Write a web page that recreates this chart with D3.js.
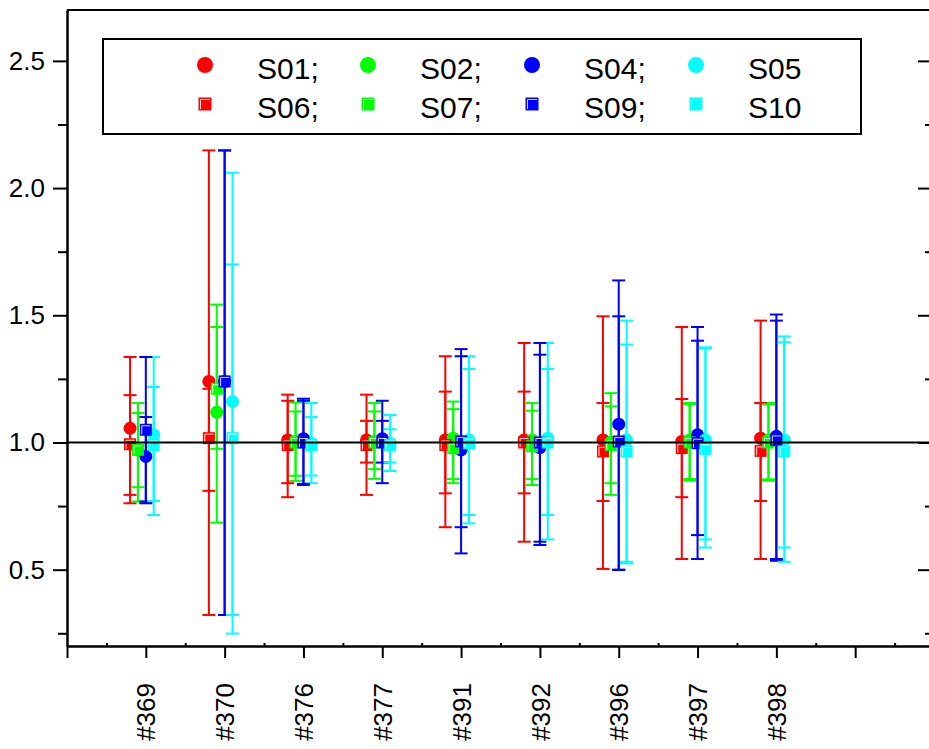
<!DOCTYPE html>
<html>
<head>
<meta charset="utf-8">
<script src="https://cdn.jsdelivr.net/npm/d3@7"></script>
<style>
  body { margin: 0; background: #fff; }
  svg { display: block; }
  text { font-family: "Liberation Sans", Arial, sans-serif; }
</style>
</head>
<body>
<svg id="chart" width="929" height="749"></svg>
<script>
// Sample labels along the x axis (positions 1..9)
const categories = ["#369", "#370", "#376", "#377", "#391", "#392", "#396", "#397", "#398"];
const yMajorTicks = [0.5, 1.0, 1.5, 2.0, 2.5];
const yMinorTicks = [0.25, 0.75, 1.25, 1.75, 2.25];

// Each series: one [value, lower, upper] triplet per category
const S01 = [[1.056, 0.761, 1.336], [1.240, 0.322, 2.148], [1.010, 0.840, 1.188], [1.010, 0.794, 1.188], [1.010, 0.667, 1.339], [1.010, 0.610, 1.391], [1.010, 0.503, 1.496], [1.004, 0.542, 1.454], [1.017, 0.542, 1.479]];
const S02 = [[0.971, 0.768, 1.155], [1.119, 0.685, 1.542], [1.004, 0.849, 1.157], [1.004, 0.857, 1.155], [1.017, 0.856, 1.161], [1.010, 0.856, 1.155], [1.001, 0.794, 1.194], [1.010, 0.856, 1.155], [1.010, 0.850, 1.155]];
const S04 = [[0.945, 0.768, 1.100], [1.240, 0.322, 2.148], [1.015, 0.833, 1.172], [1.015, 0.840, 1.164], [0.971, 0.564, 1.367], [0.980, 0.610, 1.345], [1.072, 0.500, 1.637], [1.030, 0.636, 1.454], [1.024, 0.535, 1.503]];
const S05 = [[1.030, 0.715, 1.336], [1.161, 0.249, 2.060], [0.997, 0.840, 1.155], [0.997, 0.888, 1.108], [1.010, 0.682, 1.339], [1.017, 0.619, 1.391], [1.010, 0.531, 1.479], [1.010, 0.619, 1.374], [1.010, 0.531, 1.417]];
const S06 = [[0.993, 0.794, 1.186], [1.017, 0.810, 1.211], [0.990, 0.785, 1.164], [0.990, 0.921, 1.085], [0.990, 0.800, 1.200], [1.000, 0.800, 1.200], [0.965, 0.770, 1.155], [0.978, 0.785, 1.171], [0.967, 0.770, 1.155]];
const S07 = [[0.971, 0.824, 1.116], [1.211, 0.975, 1.454], [1.000, 0.869, 1.122], [1.000, 0.895, 1.122], [0.978, 0.840, 1.131], [0.985, 0.833, 1.125], [0.990, 0.840, 1.142], [1.000, 0.850, 1.150], [1.000, 0.855, 1.150]];
const S09 = [[1.050, 0.761, 1.336], [1.240, 0.322, 2.148], [1.000, 0.837, 1.164], [1.000, 0.921, 1.085], [1.004, 0.667, 1.339], [1.000, 0.597, 1.391], [1.004, 0.499, 1.496], [0.997, 0.542, 1.400], [1.010, 0.542, 1.479]];
const S10 = [[0.990, 0.770, 1.218], [1.017, 0.322, 1.700], [0.990, 0.870, 1.100], [0.990, 0.921, 1.052], [0.997, 0.715, 1.289], [1.000, 0.715, 1.289], [0.965, 0.525, 1.385], [0.975, 0.587, 1.369], [0.965, 0.587, 1.394]];

const seriesNames  = ["S01", "S02", "S04", "S05", "S06", "S07", "S09", "S10"];
const seriesData   = [S01, S02, S04, S05, S06, S07, S09, S10];
const seriesColors = ["#ff0000", "#00ff00", "#0000ff", "#00ffff", "#ff0000", "#00ff00", "#0000ff", "#00ffff"];
const seriesShapes = ["circle", "circle", "circle", "circle", "square", "square", "square", "square"];
const seriesShift  = [-0.2, -0.1, 0, 0.1, -0.2, -0.1, 0, 0.1];
const legendLabels = ["S01;", "S02;", "S04;", "S05", "S06;", "S07;", "S09;", "S10"];

const svg = d3.select("#chart");
const x = d3.scaleLinear().domain([0, 11]).range([67, 934]);
const y = d3.scaleLinear().domain([0.2, 2.7]).range([646, 10]);

const axisStyle = g => {
  g.selectAll("path.domain").attr("stroke", "#000").attr("stroke-width", 2);
  g.selectAll(".tick line").attr("stroke", "#000").attr("stroke-width", 2);
  g.selectAll("text").attr("fill", "#000").attr("font-size", 26);
};

// Left axis with major and minor ticks
svg.append("g").attr("transform", `translate(${x(0)},0)`)
  .call(d3.axisLeft(y).tickValues(yMajorTicks).tickFormat(d3.format(".1f")).tickSize(14).tickSizeOuter(0).tickPadding(8))
  .call(axisStyle);
svg.append("g").attr("transform", `translate(${x(0)},0)`)
  .call(d3.axisLeft(y).tickValues(yMinorTicks).tickFormat("").tickSize(9).tickSizeOuter(0))
  .call(axisStyle);

// Right axis: ticks point inwards
svg.append("g").attr("transform", `translate(${x(11)},0)`)
  .call(d3.axisLeft(y).tickValues(yMajorTicks).tickFormat("").tickSize(16).tickSizeOuter(0))
  .call(axisStyle);
svg.append("g").attr("transform", `translate(${x(11)},0)`)
  .call(d3.axisLeft(y).tickValues(yMinorTicks).tickFormat("").tickSize(9).tickSizeOuter(0))
  .call(axisStyle);

// Top frame line
svg.append("line").attr("x1", x(0)).attr("x2", x(11)).attr("y1", y(2.7)).attr("y2", y(2.7))
  .attr("stroke", "#000").attr("stroke-width", 2);

// Bottom axis with rotated sample labels
const xAxis = svg.append("g").attr("transform", `translate(0,${y(0.2)})`)
  .call(d3.axisBottom(x).tickValues(d3.range(0, 11)).tickSize(12).tickSizeOuter(0)
    .tickFormat(i => categories[i - 1] || ""))
  .call(axisStyle);
xAxis.selectAll("text")
  .attr("text-anchor", "end")
  .attr("transform", "rotate(-90)")
  .attr("x", -37)
  .attr("y", 0)
  .attr("dy", "0.35em");
svg.append("g").attr("transform", `translate(0,${y(0.2)})`)
  .call(d3.axisBottom(x).tickValues(d3.range(0.5, 11, 1)).tickSize(-3).tickSizeOuter(0).tickFormat(""))
  .call(axisStyle);

// Series: error bars then markers
const capHalf = 6.5;
seriesData.forEach((rows, si) => {
  const color = seriesColors[si];
  const g = svg.append("g").attr("class", "series-" + seriesNames[si]);
  const px = (d, i) => x(i + 1 + seriesShift[si]);
  g.selectAll("line.bar").data(rows).join("line").attr("class", "bar")
    .attr("x1", px).attr("x2", px)
    .attr("y1", d => y(d[1])).attr("y2", d => y(d[2]))
    .attr("stroke", color).attr("stroke-width", 2);
  [1, 2].forEach(k => {
    g.selectAll("line.cap" + k).data(rows).join("line").attr("class", "cap" + k)
      .attr("x1", (d, i) => px(d, i) - capHalf).attr("x2", (d, i) => px(d, i) + capHalf)
      .attr("y1", d => y(d[k])).attr("y2", d => y(d[k]))
      .attr("stroke", color).attr("stroke-width", 2);
  });
  if (seriesShapes[si] === "circle") {
    g.selectAll("circle").data(rows).join("circle")
      .attr("cx", px).attr("cy", d => y(d[0])).attr("r", 6.5)
      .attr("fill", color);
  } else {
    const s = 12;
    g.selectAll("rect").data(rows).join("rect")
      .attr("x", (d, i) => px(d, i) - s / 2).attr("y", d => y(d[0]) - s / 2)
      .attr("width", s).attr("height", s).attr("fill", color);
    g.selectAll("path.hl").data(rows).join("path").attr("class", "hl")
      .attr("d", (d, i) => {
        const cx = px(d, i), cy = y(d[0]);
        return `M${cx - s / 2 + 2},${cy + s / 2 - 1.5}V${cy - s / 2 + 2}H${cx + s / 2 - 1.5}`;
      })
      .attr("fill", "none").attr("stroke", "#fff").attr("stroke-width", 1).attr("opacity", 0.85);
  }
});

// Reference line at 1.0
svg.append("line").attr("x1", x(0)).attr("x2", x(11)).attr("y1", y(1)).attr("y2", y(1))
  .attr("stroke", "#000").attr("stroke-width", 2);

// Legend
const legend = svg.append("g");
legend.append("rect").attr("x", 103).attr("y", 39).attr("width", 758).attr("height", 95)
  .attr("fill", "#fff").attr("stroke", "#000").attr("stroke-width", 2);
const legendCols = [205, 368, 532, 696];
const legendRows = [65, 104];
const textBase = [79, 118];
seriesNames.forEach((name, si) => {
  const col = si % 4, row = Math.floor(si / 4);
  const cx = legendCols[col], cy = legendRows[row];
  if (seriesShapes[si] === "circle") {
    legend.append("circle").attr("cx", cx).attr("cy", cy).attr("r", 8).attr("fill", seriesColors[si]);
  } else {
    const s = 13;
    legend.append("rect").attr("x", cx - s / 2).attr("y", cy - s / 2).attr("width", s).attr("height", s)
      .attr("fill", seriesColors[si]);
    legend.append("path")
      .attr("d", `M${cx - s / 2 + 2},${cy + s / 2 - 1.5}V${cy - s / 2 + 2}H${cx + s / 2 - 1.5}`)
      .attr("fill", "none").attr("stroke", "#fff").attr("stroke-width", 1).attr("opacity", 0.85);
  }
  legend.append("text").attr("x", cx + 52).attr("y", textBase[row])
    .attr("font-size", 30).attr("fill", "#000").text(legendLabels[si]);
});
</script>
</body>
</html>
